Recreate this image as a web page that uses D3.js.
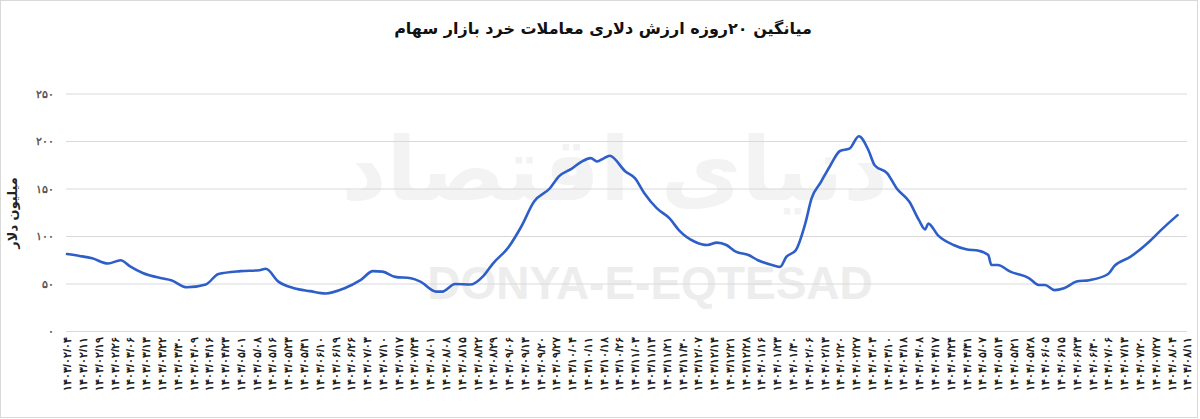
<!DOCTYPE html>
<html>
<head>
<meta charset="utf-8">
<script src="https://cdn.jsdelivr.net/npm/d3@7"></script>
<style>
  body { margin: 0; background: #fff; }
  svg { display: block; font-family: 'DejaVu Sans', sans-serif; }
</style>
</head>
<body>
<svg id="chart" width="1200" height="419"></svg>
<script>
// x-axis labels, one every 5 trading days
const xLabels = [
  '۱۴۰۳/۰۲/۰۴','۱۴۰۳/۰۲/۱۱','۱۴۰۳/۰۲/۱۹','۱۴۰۳/۰۲/۲۶','۱۴۰۳/۰۳/۰۶','۱۴۰۳/۰۳/۱۳',
  '۱۴۰۳/۰۳/۲۲','۱۴۰۳/۰۳/۳۰','۱۴۰۳/۰۴/۰۹','۱۴۰۳/۰۴/۱۶','۱۴۰۳/۰۴/۲۳','۱۴۰۳/۰۵/۰۱',
  '۱۴۰۳/۰۵/۰۸','۱۴۰۳/۰۵/۱۶','۱۴۰۳/۰۵/۲۳','۱۴۰۳/۰۵/۳۱','۱۴۰۳/۰۶/۱۰','۱۴۰۳/۰۶/۱۹',
  '۱۴۰۳/۰۶/۲۶','۱۴۰۳/۰۷/۰۳','۱۴۰۳/۰۷/۱۰','۱۴۰۳/۰۷/۱۷','۱۴۰۳/۰۷/۲۴','۱۴۰۳/۰۸/۰۱',
  '۱۴۰۳/۰۸/۰۸','۱۴۰۳/۰۸/۱۵','۱۴۰۳/۰۸/۲۲','۱۴۰۳/۰۸/۲۹','۱۴۰۳/۰۹/۰۶','۱۴۰۳/۰۹/۱۳',
  '۱۴۰۳/۰۹/۲۰','۱۴۰۳/۰۹/۲۷','۱۴۰۳/۱۰/۰۴','۱۴۰۳/۱۰/۱۱','۱۴۰۳/۱۰/۱۸','۱۴۰۳/۱۰/۲۶',
  '۱۴۰۳/۱۱/۰۳','۱۴۰۳/۱۱/۱۳','۱۴۰۳/۱۱/۲۱','۱۴۰۳/۱۱/۳۰','۱۴۰۳/۱۲/۰۷','۱۴۰۳/۱۲/۱۴',
  '۱۴۰۳/۱۲/۲۱','۱۴۰۳/۱۲/۲۸','۱۴۰۴/۰۱/۱۶','۱۴۰۴/۰۱/۲۳','۱۴۰۴/۰۱/۳۰','۱۴۰۴/۰۲/۰۶',
  '۱۴۰۴/۰۲/۱۳','۱۴۰۴/۰۲/۲۰','۱۴۰۴/۰۲/۲۷','۱۴۰۴/۰۳/۰۳','۱۴۰۴/۰۳/۱۰','۱۴۰۴/۰۳/۱۸',
  '۱۴۰۴/۰۴/۰۸','۱۴۰۴/۰۴/۱۷','۱۴۰۴/۰۴/۲۴','۱۴۰۴/۰۴/۳۱','۱۴۰۴/۰۵/۰۷','۱۴۰۴/۰۵/۱۴',
  '۱۴۰۴/۰۵/۲۱','۱۴۰۴/۰۵/۲۸','۱۴۰۴/۰۶/۰۵','۱۴۰۴/۰۶/۱۵','۱۴۰۴/۰۶/۲۳','۱۴۰۴/۰۶/۳۰',
  '۱۴۰۴/۰۷/۰۶','۱۴۰۴/۰۷/۱۳','۱۴۰۴/۰۷/۲۰','۱۴۰۴/۰۷/۲۷','۱۴۰۴/۰۸/۰۴','۱۴۰۴/۰۸/۱۱'
];
const labelStep = 5; // trading days between labels

// 20-day average, million dollars (trading-day index -> value)
const seriesDay = [
  0, 4, 8, 13, 17, 20, 24, 30, 33, 38, 44, 48, 55, 61, 63, 67, 72, 77, 82, 88,
  93, 97, 100, 104, 109, 112, 117, 119, 123, 128, 132, 135, 140, 144, 148, 153, 156, 160, 163, 166,
  168, 170, 172, 177, 180, 183, 187, 191, 194, 199, 203, 206, 209, 212, 216, 219, 224, 226, 228, 231,
  234, 236, 239, 242, 245, 248, 251, 254, 256, 260, 263, 267, 270, 272, 273, 276, 281, 285, 289, 292,
  293, 295, 299, 305, 308, 310, 313, 316, 320, 324, 330, 332, 337, 343, 347, 352
];
const seriesValue = [
  81, 79, 76.5, 71, 74.5, 68, 61, 55.5, 53.5, 46, 49, 60, 63, 64, 65.5, 52, 45, 42, 39.5, 45,
  53.5, 63, 62.5, 57, 55.5, 52, 41.5, 41.5, 49.5, 49, 58, 71, 88.5, 110, 136, 150, 163, 171, 178, 182,
  178.5, 181.5, 184.5, 168, 161, 145, 129, 118.5, 106, 94, 90.5, 93, 90.5, 83.5, 80, 74.5, 69, 67.5, 78, 85,
  113, 139.5, 157, 174.5, 189.5, 192, 205, 190.5, 174.5, 166, 150, 136, 117, 107, 113, 101, 90.5, 86, 84.5, 80,
  69.5, 69.5, 62.5, 55.5, 48.5, 48.5, 43, 45, 52, 53.5, 60, 68.5, 78, 94, 107, 122
];

const yTicks = [0, 50, 100, 150, 200, 250];
const yTickLabels = ['۰', '۵۰', '۱۰۰', '۱۵۰', '۲۰۰', '۲۵۰'];

const titleText = 'میانگین ۲۰روزه ارزش دلاری معاملات خرد بازار سهام';
const yTitle = 'میلیون دلار';

const svg = d3.select('#chart');
const plotLeft = 67, plotRight = 1187, plotTop = 93.5, plotBottom = 331;

const lastDay = (xLabels.length - 1) * labelStep;
const x = d3.scaleLinear().domain([0, lastDay]).range([plotLeft, plotRight]);
const y = d3.scaleLinear().domain([0, 250]).range([plotBottom, plotTop]);

// outer frame
svg.append('rect')
  .attr('x', 0.5).attr('y', 0.5)
  .attr('width', 1197).attr('height', 417)
  .attr('fill', '#fff')
  .attr('stroke', '#d9d9d9');

// watermark
svg.append('text')
  .attr('x', 615).attr('y', 200)
  .attr('text-anchor', 'middle')
  .style('font-size', '88px')
  .style('font-weight', 'bold')
  .attr('fill', '#f3f3f3')
  .text('دنیای اقتصاد');
svg.append('text')
  .attr('x', 650).attr('y', 299)
  .attr('text-anchor', 'middle')
  .style('font-family', "'Liberation Sans', Arial, sans-serif")
  .style('font-size', '46px')
  .style('font-weight', 'bold')
  .attr('fill', '#ededed')
  .text('DONYA-E-EQTESAD');

// gridlines
svg.append('g')
  .attr('transform', `translate(${plotLeft - 1},0)`)
  .call(d3.axisLeft(y).tickValues(yTicks).tickSize(-(plotRight - plotLeft + 1)).tickFormat(''))
  .call(g => g.select('.domain').remove())
  .call(g => g.selectAll('line').attr('stroke', '#d9d9d9'));

// y axis labels
svg.append('g')
  .attr('transform', `translate(${plotLeft},0)`)
  .call(d3.axisLeft(y).tickValues(yTicks).tickSize(0).tickPadding(13)
    .tickFormat((d, i) => yTickLabels[i]))
  .call(g => g.select('.domain').remove())
  .call(g => g.selectAll('text')
    .style('font-size', '11px')
    .style('font-weight', 'bold')
    .attr('fill', '#595959'));

// x axis labels
svg.append('g')
  .attr('transform', `translate(0,${plotBottom})`)
  .call(d3.axisBottom(x).tickValues(xLabels.map((d, i) => i * labelStep)).tickSize(0)
    .tickFormat((d, i) => xLabels[i]))
  .call(g => g.select('.domain').remove())
  .call(g => g.selectAll('text')
    .attr('transform', 'rotate(-90)')
    .attr('x', -6).attr('y', 0).attr('dy', '0.35em')
    .style('text-anchor', 'end')
    .style('font-size', '11px')
    .style('font-weight', 'bold')
    .attr('fill', '#1a1a1a'));

// series line
const pts = seriesDay.map((d, i) => [d, seriesValue[i]]);
svg.append('path')
  .datum(pts)
  .attr('fill', 'none')
  .attr('stroke', '#2e5fc8')
  .attr('stroke-width', 2.6)
  .attr('stroke-linejoin', 'round')
  .attr('stroke-linecap', 'round')
  .attr('d', d3.line().x(d => x(d[0])).y(d => y(d[1])).curve(d3.curveMonotoneX));

// title
svg.append('text')
  .attr('x', 603).attr('y', 34)
  .attr('text-anchor', 'middle')
  .style('font-size', '16px')
  .style('font-weight', 'bold')
  .attr('fill', '#111')
  .text(titleText);

// y axis title
svg.append('text')
  .attr('transform', 'translate(17,213) rotate(-90)')
  .attr('text-anchor', 'middle')
  .style('font-size', '13px')
  .style('font-weight', 'bold')
  .attr('fill', '#222')
  .text(yTitle);
</script>
</body>
</html>
